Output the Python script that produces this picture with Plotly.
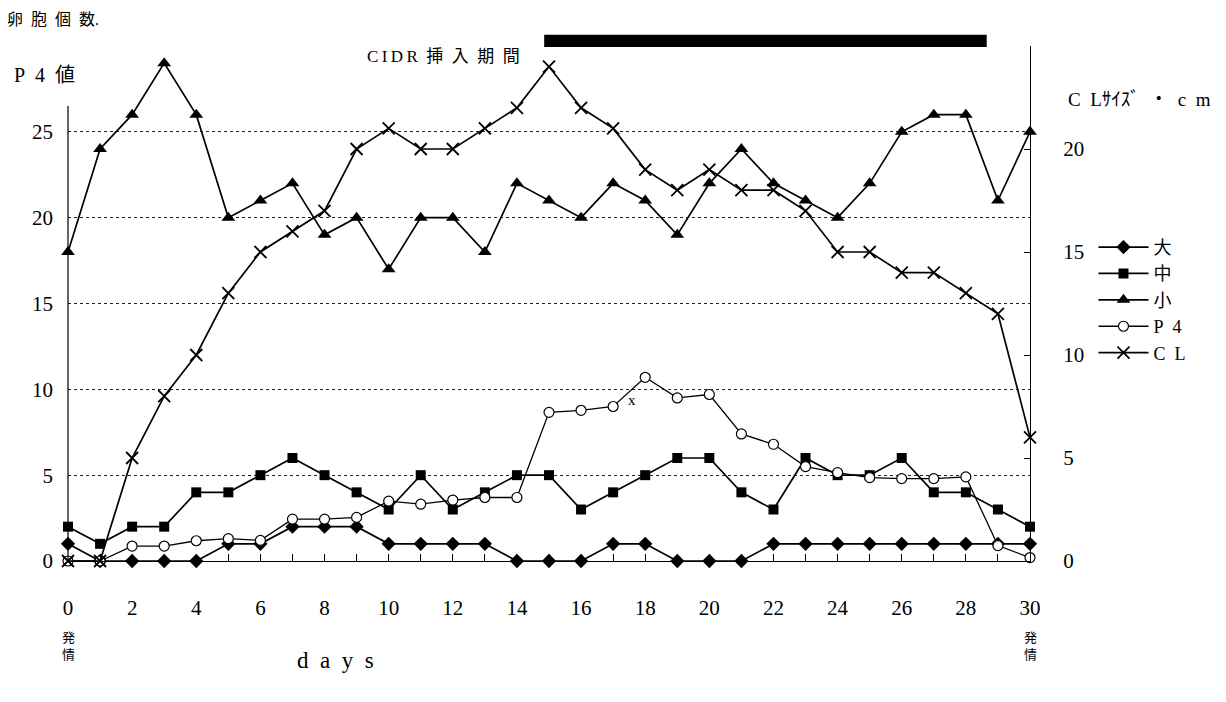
import plotly.graph_objects as go

days = list(range(31))
x_tick_labels = [str(d) if d % 2 == 0 else "" for d in days]

dai = [1, 0, 0, 0, 0, 1, 1, 2, 2, 2, 1, 1, 1, 1, 0, 0, 0, 1, 1, 0, 0, 0, 1, 1, 1, 1, 1, 1, 1, 1, 1]
chu = [2, 1, 2, 2, 4, 4, 5, 6, 5, 4, 3, 5, 3, 4, 5, 5, 3, 4, 5, 6, 6, 4, 3, 6, 5, 5, 6, 4, 4, 3, 2]
sho = [18, 24, 26, 29, 26, 20, 21, 22, 19, 20, 17, 20, 20, 18, 22, 21, 20, 22, 21, 19, 22, 24, 22, 21, 20, 22, 25, 26, 26, 21, 25]
p4 = [0, 0, 0.87, 0.87, 1.18, 1.3, 1.2, 2.44, 2.44, 2.54, 3.49, 3.31, 3.55, 3.7, 3.7,
      8.66, 8.78, 9.0, 10.7, 9.5, 9.7, 7.4, 6.8, 5.5, 5.15, 4.86, 4.8, 4.8, 4.9, 0.9, 0.2]
cl = [0, 0, 5, 8, 10, 13, 15, 16, 17, 20, 21, 20, 20, 21, 22, 24, 22, 21, 19, 18, 19, 18, 18, 17, 15, 15, 14, 14, 13, 12, 6]

series_names = ["大", "中", "小", "P\u20024", "C\u2002L"]
left_ticks = [0, 5, 10, 15, 20, 25]
right_ticks = [0, 5, 10, 15, 20]
cidr_period = [14.85, 28.65]

SERIF = "Liberation Serif, DejaVu Serif, Noto Sans CJK JP, serif"
BLACK = "#000000"
SP = "\u2002"
TH = "\u2009"

fig = go.Figure()

line_style = dict(color=BLACK, width=1.7)

fig.add_trace(go.Scatter(x=days, y=dai, name=series_names[0], mode="lines+markers",
                         line=line_style, cliponaxis=False,
                         marker=dict(symbol="diamond", size=11, color=BLACK)))
fig.add_trace(go.Scatter(x=days, y=chu, name=series_names[1], mode="lines+markers",
                         line=line_style, cliponaxis=False,
                         marker=dict(symbol="square", size=10, color=BLACK)))
fig.add_trace(go.Scatter(x=days, y=sho, name=series_names[2], mode="lines+markers",
                         line=line_style, cliponaxis=False,
                         marker=dict(symbol="triangle-up", size=12, color=BLACK)))
fig.add_trace(go.Scatter(x=days, y=p4, name=series_names[3], mode="lines+markers",
                         line=dict(color=BLACK, width=1.3), cliponaxis=False,
                         marker=dict(symbol="circle", size=10, color="white",
                                     line=dict(color=BLACK, width=1.2))))
fig.add_trace(go.Scatter(x=days, y=cl, name=series_names[4], mode="lines+markers",
                         line=line_style, cliponaxis=False, yaxis="y2",
                         marker=dict(symbol="x-thin-open", size=12, color=BLACK,
                                     line=dict(color=BLACK, width=1.8))))

# The page body adds an 8px offset; the layout is sized to compensate.
fig.update_layout(
    width=1218, height=694,
    margin=dict(l=60, r=196, t=38, b=141, autoexpand=False),
    paper_bgcolor="white", plot_bgcolor="white",
    font=dict(family=SERIF, size=19, color=BLACK),
    showlegend=True,
    legend=dict(x=1.066, y=0.645, xanchor="left", yanchor="top",
                font=dict(family=SERIF, size=18, color=BLACK),
                bgcolor="rgba(0,0,0,0)", tracegroupgap=0, itemwidth=50),
    xaxis=dict(range=[0, 30], tickvals=days, ticktext=x_tick_labels,
               ticks="inside", ticklen=7, tickcolor=BLACK, tickwidth=1,
               showline=True, linecolor=BLACK, linewidth=1.2,
               showgrid=False, zeroline=False, ticklabelstandoff=28,
               tickfont=dict(family=SERIF, size=21)),
    yaxis=dict(range=[0, 30], tickvals=left_ticks, ticks="",
               showline=False, showgrid=True, gridcolor="#222222",
               griddash="dot", gridwidth=1, zeroline=False,
               ticklabelstandoff=14, tickfont=dict(family=SERIF, size=21)),
    yaxis2=dict(range=[0, 25], tickvals=right_ticks, overlaying="y", side="right",
                ticks="inside", ticklen=6, tickcolor=BLACK,
                showline=True, linecolor=BLACK, linewidth=1.2,
                showgrid=False, zeroline=False, ticklabelstandoff=28,
                tickfont=dict(family=SERIF, size=21)),
)

# left axis line (stops below the top, as in the reference)
fig.add_shape(type="line", xref="paper", yref="y", x0=0, x1=0, y0=0, y1=26.5,
              line=dict(color=BLACK, width=1.2))

# CIDR insertion bar
fig.add_shape(type="rect", xref="x", yref="paper", x0=cidr_period[0], x1=cidr_period[1],
              y0=0.998, y1=1.022, fillcolor=BLACK, line=dict(width=0))

annotations = [
    dict(text="卵" + SP + "胞" + SP + "個" + SP + "数.", x=5, y=20, size=16),
    dict(text="P" + SP + "4" + SP + "値", x=12, y=75, size=20),
    dict(text="C" + TH + "I" + TH + "D" + TH + "R" + SP + "挿" + SP + "入" + SP + "期" + SP + "間",
         x=365, y=57, size=17),
    dict(text="C" + SP + "Lｻｲｽﾞ" + SP + "・" + SP + "c" + SP + "m", x=1066, y=100, size=19),
    dict(text="d" + SP + "a" + SP + "y" + SP + "s", x=295, y=660, size=23),
]
for a in annotations:
    fig.add_annotation(text=a["text"], xref="paper", yref="paper",
                       x=(a["x"] - 68) / 962, y=(561 - a["y"]) / 515,
                       xanchor="left", yanchor="middle", showarrow=False,
                       font=dict(family=SERIF, color=BLACK, size=a["size"]))

for d in (0, 30):
    fig.add_annotation(text="発<br>情", xref="x", yref="paper", x=d, y=(561 - 645) / 515,
                       xanchor="center", yanchor="middle", showarrow=False,
                       font=dict(family="Noto Sans CJK JP, sans-serif", size=13, color=BLACK))

fig.add_annotation(text="x", xref="x", yref="y", x=17.6, y=9.4, showarrow=False,
                   font=dict(family=SERIF, size=15, color=BLACK))

fig.write_html("out.html")
